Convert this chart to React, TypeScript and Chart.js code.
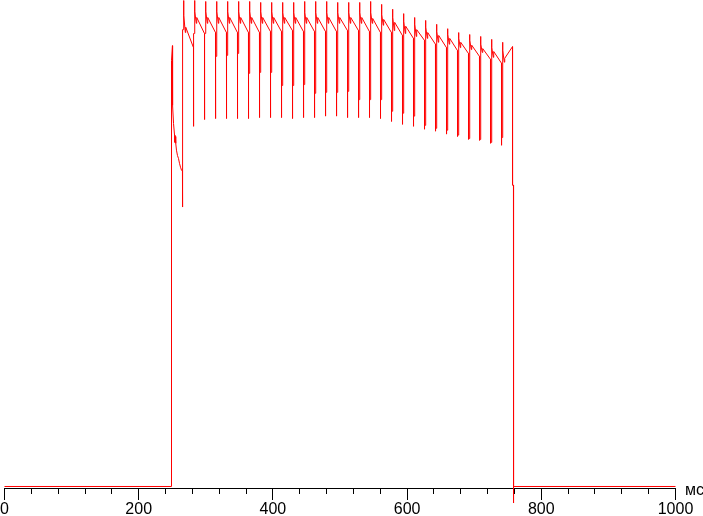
import { useEffect, useRef } from "react";
import { Chart, registerables } from "chart.js";

Chart.register(...registerables);

// ---- axis ----
const majorTicks = [0, 200, 400, 600, 800, 1000];
const minorTicks = [40, 80, 120, 160, 240, 280, 320, 360, 440, 480, 520, 560, 640, 680, 720, 760, 840, 880, 920, 960];
const unitLabel = "мс";

// ---- signal (level in % of full scale, time in ms) ----
// lead-in: flat zero, switch-on and first settling slope
const leadTimes = [0, 248.8, 248.9, 250.3, 250.5, 251.9, 253.4, 254.0, 254.5, 255.2, 256.3, 257.8, 259.3, 260.8, 262.3, 263.8, 265.2];
const leadLevels = [0, 0, 87.7, 90.7, 78.4, 74.7, 72.3, 70.8, 72.0, 70.6, 69.2, 68.1, 67.5, 66.5, 65.7, 65.1, 64.9];

// one row per refresh period
const frameStart = [265.3, 281.7, 298.1, 314.5, 330.8, 347.2, 363.6, 380.0, 396.4, 412.8, 429.2, 445.6, 462.0, 478.4, 494.8, 511.2, 527.6, 543.9, 560.3, 576.7, 593.1, 609.5, 625.9, 642.3, 658.7, 675.1, 691.5, 707.9, 724.3, 740.7];
const dipLow = [57.5, 74.1, 75.5, 75.7, 75.7, 75.7, 75.7, 75.9, 75.9, 75.9, 75.7, 75.9, 75.9, 76.2, 76.2, 75.9, 75.9, 75.9, 75.7, 75.1, 74.5, 74.1, 73.5, 73.1, 72.5, 72.0, 71.4, 71.2, 70.6, 70.2];
const dipHigh = [94.0, 93.2, 93.2, 88.5, 88.7, 89.1, 85.0, 85.2, 85.2, 82.5, 82.5, 82.7, 80.9, 81.1, 81.1, 81.3, 79.6, 79.6, 79.6, 77.2, 76.8, 76.2, 74.3, 73.7, 73.3, 72.3, 71.6, 71.4, 70.8, 71.8];
const peak = [100, 100, 99.8, 99.8, 99.8, 99.8, 99.8, 99.6, 99.6, 99.6, 99.6, 99.8, 99.8, 99.8, 99.6, 99.6, 99.6, 99.8, 99.2, 98.2, 97.3, 96.5, 95.9, 95.1, 94.2, 93.4, 93.0, 92.6, 92.0, 91.4];
const shoulder = [96.9, 97.7, 97.7, 97.7, 97.7, 97.7, 97.7, 97.7, 97.7, 97.5, 97.5, 97.5, 97.5, 97.5, 97.5, 97.5, 97.5, 97.5, 97.1, 96.5, 95.7, 95.1, 94.5, 93.6, 93.0, 92.2, 91.8, 91.0, 90.3, 89.7];
const notch = [93.4, 95.3, 95.3, 95.3, 95.3, 95.3, 95.3, 95.3, 95.3, 95.3, 95.3, 95.3, 95.3, 95.3, 95.3, 95.3, 95.3, 95.3, 94.9, 93.8, 93.2, 92.6, 92.2, 91.4, 91.0, 90.3, 89.9, 89.3, 88.3, 87.3];
const afterNotch = [94.5, 96.5, 96.5, 96.5, 96.5, 96.5, 96.5, 96.5, 96.5, 96.5, 96.5, 96.5, 96.5, 96.5, 96.5, 96.5, 96.5, 96.3, 96.1, 95.5, 94.7, 94.0, 93.4, 92.8, 92.2, 91.4, 90.8, 90.1, 89.5, 88.1];
const frameEnd = [90.3, 93.2, 93.4, 93.4, 93.4, 93.4, 93.4, 93.6, 93.6, 93.8, 93.6, 93.6, 93.6, 93.6, 93.8, 93.8, 93.6, 93.4, 93.4, 92.8, 92.2, 91.8, 91.0, 90.3, 89.7, 89.1, 88.5, 87.9, 87.1, 90.5];
const finalDrop = 757.1;

// switch-off with undershoot, then flat zero
const tailTimes = [757.15, 758.5, 758.6, 758.7, 1000];
const tailLevels = [62.0, 62.0, -3.4, 0, 0];

function buildPoints() {
  const pts: { x: number; y: number }[] = [];
  leadTimes.forEach((t, i) => pts.push({ x: t, y: leadLevels[i] }));
  frameStart.forEach((f, k) => {
    const next = k + 1 < frameStart.length ? frameStart[k + 1] : finalDrop;
    pts.push({ x: f + 0.05, y: dipLow[k] });
    pts.push({ x: f + 0.15, y: dipHigh[k] });
    pts.push({ x: f + 1.4, y: dipHigh[k] });
    pts.push({ x: f + 1.5, y: peak[k] });
    pts.push({ x: f + 2.1, y: shoulder[k] });
    pts.push({ x: f + 4.2, y: notch[k] });
    pts.push({ x: f + 4.8, y: afterNotch[k] });
    pts.push({ x: next - 0.05, y: frameEnd[k] });
  });
  tailTimes.forEach((t, i) => pts.push({ x: t, y: tailLevels[i] }));
  return pts;
}

const FONT = '"Liberation Sans", Arial, sans-serif';

export default function App() {
  const ref = useRef<HTMLCanvasElement>(null);

  useEffect(() => {
    if (!ref.current) return;
    const axisDecor = {
      id: "axisDecor",
      afterDraw(chart: any) {
        const xs = chart.scales.x;
        const ctx = chart.ctx as CanvasRenderingContext2D;
        const yAxis = Math.round(chart.chartArea.bottom);
        ctx.save();
        ctx.strokeStyle = "#000";
        ctx.lineWidth = 1;
        ctx.beginPath();
        majorTicks.forEach((v) => {
          const px = Math.floor(xs.getPixelForValue(v)) + 0.5;
          ctx.moveTo(px, yAxis);
          ctx.lineTo(px, yAxis + 12);
        });
        minorTicks.forEach((v) => {
          const px = Math.floor(xs.getPixelForValue(v)) + 0.5;
          ctx.moveTo(px, yAxis);
          ctx.lineTo(px, yAxis + 6);
        });
        ctx.stroke();
        ctx.fillStyle = "#000";
        ctx.font = `16px ${FONT}`;
        ctx.textAlign = "left";
        ctx.textBaseline = "alphabetic";
        ctx.fillText(unitLabel, xs.right + 9.5, yAxis + 7);
        ctx.restore();
      },
    };

    const chart = new Chart(ref.current, {
      type: "line",
      data: {
        datasets: [
          {
            data: buildPoints(),
            borderColor: "#ff0000",
            borderWidth: 1,
            pointRadius: 0,
            tension: 0,
            fill: false,
            clip: false as any,
          },
        ],
      },
      options: {
        responsive: false,
        animation: false,
        devicePixelRatio: 1,
        events: [],
        layout: { padding: { left: 4.5, right: 27.5, top: 0, bottom: 0 } },
        plugins: { legend: { display: false }, tooltip: { enabled: false } },
        scales: {
          x: {
            type: "linear",
            position: "bottom",
            min: 0,
            max: 1000,
            afterBuildTicks: (s: any) => {
              s.ticks = majorTicks.map((v) => ({ value: v }));
            },
            ticks: {
              color: "#000",
              font: { family: FONT, size: 16, lineHeight: 0.8125 },
              padding: 0,
              maxRotation: 0,
              autoSkip: false,
              callback: (v: any) => String(v),
            },
            grid: {
              display: true,
              drawOnChartArea: false,
              drawTicks: true,
              tickLength: 15,
              tickColor: "rgba(0,0,0,0)",
            },
            border: { display: true, color: "#000", width: 1 },
          },
          y: { type: "linear", display: false, min: -0.31, max: 100.1 },
        },
      },
      plugins: [axisDecor],
    });
    return () => chart.destroy();
  }, []);

  return (
    <div style={{ position: "fixed", left: 0, top: 0, width: 703, height: 516, background: "#fff" }}>
      <canvas ref={ref} width={703} height={516} style={{ display: "block" }} />
    </div>
  );
}
